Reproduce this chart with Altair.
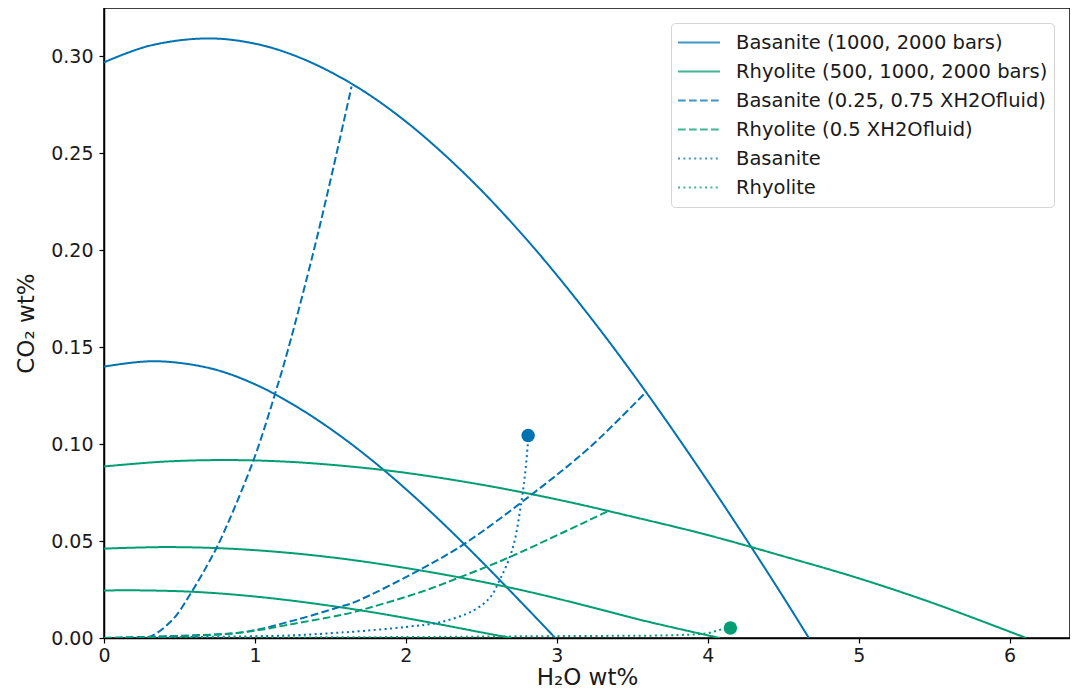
import altair as alt
import pandas as pd

BLUE = "#0173b2"
GREEN = "#029e73"

# ---- curves (H2O wt%, CO2 wt%) ----
bas2000_x = [0.0, 0.30, 0.68, 1.00, 1.30, 1.65, 2.00, 2.40, 2.80, 3.20, 3.59, 4.00, 4.30, 4.50, 4.67]
bas2000_y = [0.297, 0.3055, 0.3093, 0.3066, 0.2993, 0.2855, 0.2664, 0.2387, 0.2056, 0.1677, 0.127, 0.0809, 0.0455, 0.0212, 0.0]

bas1000_x = [0.0, 0.33, 0.70, 1.00, 1.30, 1.60, 1.90, 2.20, 2.50, 2.80, 2.99]
bas1000_y = [0.140, 0.1428, 0.1392, 0.1309, 0.1182, 0.1023, 0.0836, 0.0625, 0.0396, 0.0155, 0.0]

rhy2000_x = [0.0, 0.40, 0.80, 1.20, 1.60, 2.00, 2.50, 3.00, 3.50, 4.00, 4.50, 5.00, 5.50, 6.11]
rhy2000_y = [0.0885, 0.091, 0.0918, 0.091, 0.0887, 0.0852, 0.0791, 0.0715, 0.0626, 0.0531, 0.0422, 0.0308, 0.0178, 0.0]

rhy1000_x = [0.0, 0.40, 0.80, 1.20, 1.60, 2.00, 2.40, 2.80, 3.20, 3.60, 4.08]
rhy1000_y = [0.0461, 0.0469, 0.0462, 0.0441, 0.0407, 0.0361, 0.0306, 0.0241, 0.0165, 0.0085, 0.0]

rhy500_x = [0.0, 0.20, 0.60, 1.00, 1.40, 1.80, 2.20, 2.50, 2.70]
rhy500_y = [0.0245, 0.0246, 0.0238, 0.0214, 0.0177, 0.013, 0.0074, 0.0029, 0.0]

basx25_x = [0.0, 0.28, 0.45, 0.58, 0.69, 0.77, 0.99, 1.14, 1.22, 1.39, 1.52, 1.64]
basx25_y = [0.0, 0.0, 0.0091, 0.0237, 0.0384, 0.0504, 0.0916, 0.1277, 0.149, 0.1999, 0.2428, 0.2845]

basx75_x = [0.0, 0.60, 0.93, 1.26, 1.56, 1.66, 2.10, 2.39, 2.84, 3.22, 3.59]
basx75_y = [0.0, 0.0014, 0.0031, 0.0091, 0.016, 0.0185, 0.0355, 0.0487, 0.0744, 0.0985, 0.1268]

rhyx50_x = [0.0, 0.60, 0.93, 1.26, 1.56, 1.66, 2.09, 2.36, 2.69, 3.34]
rhyx50_y = [0.0, 0.0012, 0.003, 0.0074, 0.0117, 0.0135, 0.0235, 0.0314, 0.0418, 0.0655]

basdeg_x = [0.0, 0.60, 1.26, 1.56, 1.66, 2.00, 2.23, 2.45, 2.56, 2.62, 2.68, 2.72, 2.76, 2.79, 2.81]
basdeg_y = [0.0, 0.0005, 0.0014, 0.0028, 0.0033, 0.0057, 0.0082, 0.0143, 0.0211, 0.0297, 0.040, 0.050, 0.0675, 0.0847, 0.1019]

rhydeg_x = [0.0, 2.0, 3.0, 3.8, 4.0, 4.08, 4.12]
rhydeg_y = [0.0, 0.0005, 0.001, 0.0015, 0.0025, 0.0042, 0.005]

points_x = [2.81, 4.15]
points_y = [0.1045, 0.0052]
points_col = ["Basanite", "Rhyolite"]

series_names = [
    "Basanite (1000, 2000 bars)",
    "Rhyolite (500, 1000, 2000 bars)",
    "Basanite (0.25, 0.75 XH2Ofluid)",
    "Rhyolite (0.5 XH2Ofluid)",
    "Basanite",
    "Rhyolite",
]
series_colors = [BLUE, GREEN, BLUE, GREEN, BLUE, GREEN]
series_dashes = [[1, 0], [1, 0], [7.7, 3.3], [7.7, 3.3], [2, 3.4], [2, 3.4]]

curves = [
    ("bas2000", series_names[0], bas2000_x, bas2000_y),
    ("bas1000", series_names[0], bas1000_x, bas1000_y),
    ("rhy2000", series_names[1], rhy2000_x, rhy2000_y),
    ("rhy1000", series_names[1], rhy1000_x, rhy1000_y),
    ("rhy500", series_names[1], rhy500_x, rhy500_y),
    ("basx25", series_names[2], basx25_x, basx25_y),
    ("basx75", series_names[2], basx75_x, basx75_y),
    ("rhyx50", series_names[3], rhyx50_x, rhyx50_y),
    ("basdeg", series_names[4], basdeg_x, basdeg_y),
    ("rhydeg", series_names[5], rhydeg_x, rhydeg_y),
]

rows = []
for cid, sname, xs, ys in curves:
    for i, (xv, yv) in enumerate(zip(xs, ys)):
        rows.append({"x": xv, "y": yv, "curve": cid, "series": sname, "idx": i})
df = pd.DataFrame(rows)
pts = pd.DataFrame({"x": points_x, "y": points_y, "kind": points_col})

FONT = "DejaVu Sans"

legend = alt.Legend(
    title=None,
    orient="none",
    legendX=567,
    legendY=15,
    fillColor="white",
    strokeColor="#d4d4d4",
    cornerRadius=4,
    padding=6,
    labelFont=FONT,
    labelFontSize=19.5,
    labelColor="#1a1a1a",
    labelLimit=0,
    labelOffset=15,
    symbolType="stroke",
    symbolSize=1764,
    symbolStrokeWidth=2,
    symbolOpacity=0.75,
    clipHeight=27,
    rowPadding=2,
)

xscale = alt.Scale(domain=[0, 6.40], nice=False, zero=False)
yscale = alt.Scale(domain=[0, 0.325], nice=False, zero=False)

xaxis = alt.Axis(
    title="H₂O wt%", values=[0, 1, 2, 3, 4, 5, 6], format="d", grid=False,
    titleFontSize=23, titleFont=FONT, titleFontWeight="normal", titlePadding=1,
    labelFontSize=19, labelFont=FONT, labelPadding=3, labelColor="#1a1a1a",
    tickSize=5, tickColor="black", tickWidth=1.2, domainColor="black", domainWidth=1.5,
    labelFlush=False, titleColor="#1a1a1a",
)
yaxis = alt.Axis(
    title="CO₂ wt%", values=[0, 0.05, 0.1, 0.15, 0.2, 0.25, 0.3], format=".2f", grid=False,
    titleFontSize=23, titleFont=FONT, titleFontWeight="normal", titlePadding=12,
    labelFontSize=19, labelFont=FONT, labelPadding=6, labelColor="#1a1a1a",
    tickSize=5, tickColor="black", tickWidth=1.2, domainColor="black", domainWidth=1.5,
    labelFlush=False, titleColor="#1a1a1a",
)

lines = alt.Chart(df).mark_line(strokeWidth=2, interpolate="catmull-rom", clip=True).encode(
    x=alt.X("x:Q", scale=xscale, axis=xaxis),
    y=alt.Y("y:Q", scale=yscale, axis=yaxis),
    color=alt.Color("series:N", scale=alt.Scale(domain=series_names, range=series_colors), legend=legend),
    strokeDash=alt.StrokeDash("series:N", scale=alt.Scale(domain=series_names, range=series_dashes), legend=legend),
    detail="curve:N",
    order="idx:Q",
)

dots = alt.Chart(pts).mark_circle(size=180, opacity=1).encode(
    x=alt.X("x:Q", scale=xscale),
    y=alt.Y("y:Q", scale=yscale),
    fill=alt.Fill("kind:N", scale=alt.Scale(domain=["Basanite", "Rhyolite"], range=[BLUE, GREEN]), legend=None),
)

chart = alt.layer(lines, dots).properties(
    width=966,
    height=630,
    autosize=alt.AutoSizeParams(type="none"),
    padding={"left": 96, "top": 0, "right": 0, "bottom": 54},
    background="white",
).configure_view(stroke="black", strokeWidth=1.5)

chart.save("out.html", embed_options={"renderer": "svg", "actions": False})
